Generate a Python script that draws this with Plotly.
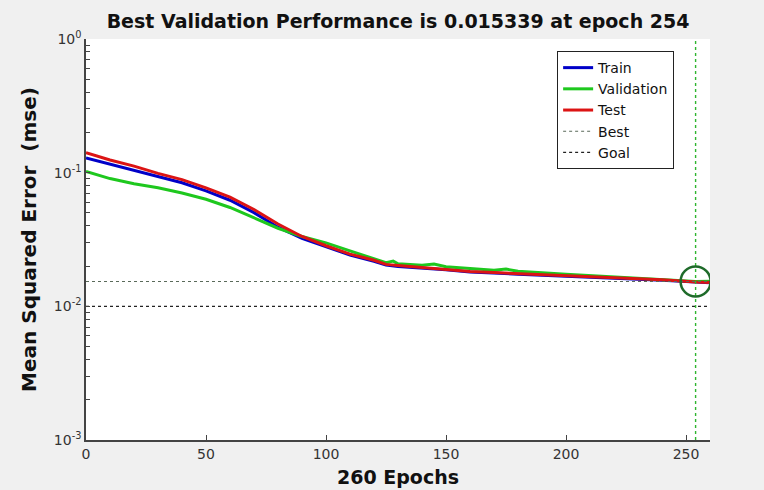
import plotly.graph_objects as go

epochs = [0, 10, 20, 30, 40, 50, 60, 70, 80, 90, 100, 110, 120, 125, 130, 140, 150, 160, 170, 180, 200, 220, 240, 254, 260]
train = [0.1290, 0.1159, 0.1042, 0.0936, 0.0841, 0.0730, 0.0622, 0.0502, 0.0391, 0.0322, 0.0279, 0.0242, 0.0217,
         0.0204, 0.0199, 0.0194, 0.0188, 0.0181, 0.0177, 0.0174, 0.0168, 0.0163, 0.0157, 0.0152, 0.0150]
test = [0.1410, 0.1245, 0.1119, 0.0988, 0.0887, 0.0770, 0.0656, 0.0530, 0.0413, 0.0333, 0.0284, 0.0246, 0.0221,
        0.0206, 0.0202, 0.0195, 0.0189, 0.0182, 0.0179, 0.0176, 0.0169, 0.0164, 0.0158, 0.0152, 0.0151]
val_epochs = [0, 10, 20, 30, 40, 50, 60, 70, 80, 90, 100, 110, 120, 125, 128, 130, 140, 145, 150, 160, 170, 175, 180,
              200, 220, 240, 254, 260]
validation = [0.1023, 0.0903, 0.0826, 0.0770, 0.0704, 0.0633, 0.0549, 0.0459, 0.0384, 0.0333, 0.0298, 0.0260,
              0.0228, 0.0212, 0.0218, 0.0208, 0.0203, 0.0207, 0.0198, 0.0192, 0.0186, 0.0190, 0.0183, 0.0174,
              0.0166, 0.0159, 0.015339, 0.0154]
best_epoch = 254
best_value = 0.015339
goal_value = 0.01
total_epochs = 260
major_vals = [1e-3, 1e-2, 1e-1, 1e0]
major_text = ["10<sup>-3</sup>", "10<sup>-2</sup>", "10<sup>-1</sup>", "10<sup>0</sup>"]
minor_mults = [2, 3, 4, 5, 6, 7, 8, 9]
xtick_vals = [0, 50, 100, 150, 200, 250]

ytick_vals = []
ytick_text = []
for v, t in zip(major_vals, major_text):
    ytick_vals.append(v)
    ytick_text.append(t)
    if v < 1:
        for m in minor_mults:
            ytick_vals.append(v * m)
            ytick_text.append("")

font_family = "DejaVu Sans, Liberation Sans, Arial, sans-serif"

fig = go.Figure()
fig.add_trace(go.Scatter(x=epochs, y=train, mode="lines", name="Train",
                         line=dict(color="#0000c8", width=3)))
fig.add_trace(go.Scatter(x=val_epochs, y=validation, mode="lines", name="Validation",
                         line=dict(color="#1ec81e", width=3)))
fig.add_trace(go.Scatter(x=epochs, y=test, mode="lines", name="Test",
                         line=dict(color="#dc1414", width=3)))
fig.add_trace(go.Scatter(x=[0, total_epochs], y=[best_value, best_value], mode="lines", name="Best",
                         line=dict(color="#5a6a5a", width=1.2, dash="dot")))
fig.add_trace(go.Scatter(x=[0, total_epochs], y=[goal_value, goal_value], mode="lines", name="Goal",
                         line=dict(color="#222222", width=1.2, dash="dot")))
fig.add_trace(go.Scatter(x=[best_epoch, best_epoch], y=[1e-3, 1e0], mode="lines", showlegend=False,
                         line=dict(color="#2fb52f", width=1.4, dash="dot")))
fig.add_trace(go.Scatter(x=[best_epoch], y=[best_value], mode="markers", showlegend=False,
                         marker=dict(symbol="circle-open", size=30, color="#1f6b2a", line=dict(width=2.5))))

fig.update_layout(
    width=764, height=490,
    margin=dict(l=86, r=54, t=39, b=50, autoexpand=False),
    paper_bgcolor="#f0f0f0",
    plot_bgcolor="white",
    font=dict(family=font_family, size=14, color="#333333"),
    title=dict(text="<b>Best Validation Performance is 0.015339 at epoch 254</b>",
               x=0.521, xanchor="center", y=0.957, yanchor="middle",
               font=dict(size=19, color="#111111")),
    legend=dict(x=0.755, y=0.97, xanchor="left", yanchor="top",
                bgcolor="white", bordercolor="#222222", borderwidth=1,
                font=dict(size=14, color="#111111"), tracegroupgap=0),
    showlegend=True,
)
fig.update_xaxes(range=[0, total_epochs], tickvals=xtick_vals, ticks="inside", ticklen=5,
                 tickcolor="#444444", showline=True, linecolor="#444444", linewidth=1.5,
                 showgrid=False, zeroline=False, tickfont=dict(size=14), automargin=False,
                 title=dict(text="<b>260 Epochs</b>", font=dict(size=19, color="#111111"), standoff=10))
fig.update_yaxes(type="log", range=[-3, 0], tickvals=ytick_vals, ticktext=ytick_text,
                 ticks="inside", ticklen=4, tickcolor="#444444", tickfont=dict(size=14),
                 showline=True, linecolor="#444444", linewidth=1.5, showgrid=False, zeroline=False,
                 automargin=False,
                 title=dict(text="<b>Mean Squared Error  (mse)</b>", font=dict(size=20, color="#111111"),
                            standoff=12))

fig.write_html("out.html")
